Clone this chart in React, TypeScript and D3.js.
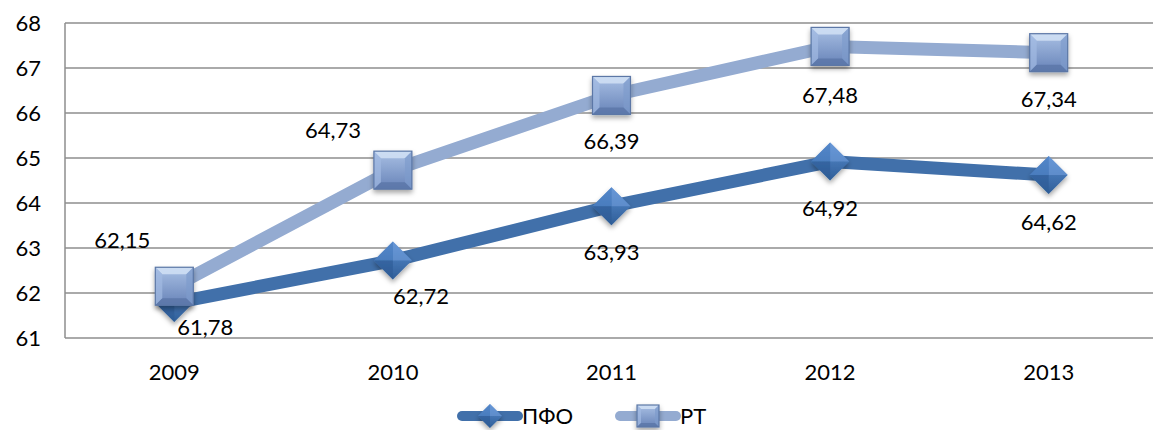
import { useRef, useEffect } from "react";
import { select, scaleBand, scaleLinear, line, range } from "d3";

const years = ["2009", "2010", "2011", "2012", "2013"];
const pfo = [61.78, 62.72, 63.93, 64.92, 64.62];
const rt = [62.15, 64.73, 66.39, 67.48, 67.34];
const yTicks = [61, 62, 63, 64, 65, 66, 67, 68];
// label offsets relative to the marker (dx, dy)
const pfoLabelOff: [number, number][] = [[31, 24], [28, 36], [0, 46], [0, 47], [0, 47]];
const rtLabelOff: [number, number][] = [[-52, -46], [-60, -40], [0, 46], [0, 49], [0, 47]];

const fmt = (v: number) => v.toFixed(2).replace(".", ",");

function App() {
  const svgRef = useRef<SVGSVGElement | null>(null);
  const width = 1153;
  const height = 430;

  useEffect(() => {
    if (!svgRef.current) return;
    const svg = select(svgRef.current);
    svg.selectAll("*").remove();

    const margin = { left: 65, right: -5, top: 23, bottom: 92 };
    const font = "Lato, 'Open Sans', sans-serif";
    const fs = 22;

    const x = scaleBand<string>()
      .domain(years)
      .range([margin.left, width - margin.right]);
    const y = scaleLinear()
      .domain([61, 68])
      .range([height - margin.bottom, margin.top]);
    const cx = (d: string) => x(d)! + x.bandwidth() / 2;

    const defs = svg.append("defs");
    const sq = defs.append("linearGradient").attr("id", "sqGrad").attr("x1", 0).attr("y1", 0).attr("x2", 0).attr("y2", 1);
    sq.append("stop").attr("offset", "0%").attr("stop-color", "#a9c0e4");
    sq.append("stop").attr("offset", "100%").attr("stop-color", "#6783b8");
    const dm = defs.append("linearGradient").attr("id", "dmGrad").attr("x1", 0).attr("y1", 0).attr("x2", 0).attr("y2", 1);
    dm.append("stop").attr("offset", "0%").attr("stop-color", "#5a8dd0");
    dm.append("stop").attr("offset", "100%").attr("stop-color", "#2f5e98");
    const sh = defs.append("filter").attr("id", "shadow").attr("x", "-30%").attr("y", "-30%").attr("width", "160%").attr("height", "160%");
    sh.append("feDropShadow").attr("dx", 0).attr("dy", 3).attr("stdDeviation", 2.5).attr("flood-opacity", 0.35);

    // grid
    svg.append("g")
      .selectAll("line")
      .data(yTicks)
      .join("line")
      .attr("x1", margin.left)
      .attr("x2", width)
      .attr("y1", (d) => y(d))
      .attr("y2", (d) => y(d))
      .attr("stroke", "#8e8e8e")
      .attr("stroke-width", 1.5);
    svg.append("line")
      .attr("x1", margin.left).attr("x2", margin.left)
      .attr("y1", y(68)).attr("y2", y(61))
      .attr("stroke", "#8e8e8e").attr("stroke-width", 1.5);

    svg.append("g")
      .selectAll("text")
      .data(yTicks)
      .join("text")
      .attr("x", 41)
      .attr("y", (d) => y(d))
      .attr("dy", "0.35em")
      .attr("text-anchor", "end")
      .attr("font-family", font)
      .attr("font-size", fs)
      .text((d) => d);

    svg.append("g")
      .selectAll("text")
      .data(years)
      .join("text")
      .attr("x", (d) => cx(d))
      .attr("y", 372)
      .attr("dy", "0.35em")
      .attr("text-anchor", "middle")
      .attr("font-family", font)
      .attr("font-size", fs)
      .text((d) => d);

    const drawDiamond = (g: any, px: number, py: number, r: number) => {
      const m = g.append("g").attr("transform", `translate(${px},${py})`).attr("filter", "url(#shadow)");
      m.append("path").attr("d", `M0,${-r}L${r},0L0,${r}L${-r},0Z`).attr("fill", "url(#dmGrad)");
      m.append("path").attr("d", `M0,${-r}L${r},0L0,0Z`).attr("fill", "#6f9ddb").attr("opacity", 0.6);
      m.append("path").attr("d", `M0,${-r}L${-r},0L0,0Z`).attr("fill", "#4f82c4").attr("opacity", 0.6);
      m.append("path").attr("d", `M0,${r}L${-r},0L0,0Z`).attr("fill", "#2c5a94").attr("opacity", 0.6);
    };
    const drawSquare = (g: any, px: number, py: number, s: number) => {
      const h = s / 2;
      const b = Math.round(s / 5.5);
      const m = g.append("g").attr("transform", `translate(${px},${py})`).attr("filter", "url(#shadow)");
      m.append("rect").attr("x", -h).attr("y", -h).attr("width", s).attr("height", s).attr("fill", "url(#sqGrad)");
      m.append("path").attr("d", `M${-h},${-h}L${h},${-h}L${h - b},${-h + b}L${-h + b},${-h + b}Z`).attr("fill", "#d5e3f6").attr("opacity", 0.8);
      m.append("path").attr("d", `M${-h},${-h}L${-h + b},${-h + b}L${-h + b},${h - b}L${-h},${h}Z`).attr("fill", "#a3bbe2").attr("opacity", 0.7);
      m.append("path").attr("d", `M${h},${-h}L${h - b},${-h + b}L${h - b},${h - b}L${h},${h}Z`).attr("fill", "#7e9bcc").attr("opacity", 0.7);
      m.append("path").attr("d", `M${-h},${h}L${-h + b},${h - b}L${h - b},${h - b}L${h},${h}Z`).attr("fill", "#5a76a8").attr("opacity", 0.8);
      m.append("rect").attr("x", -h).attr("y", -h).attr("width", s).attr("height", s).attr("fill", "none").attr("stroke", "#5b77a6").attr("stroke-width", 1.2);
    };

    const lineGen = line<number>()
      .x((_, i) => cx(years[i]))
      .y((d) => y(d));

    const series = [
      { values: pfo, color: "#4170aa", marker: "diamond", off: pfoLabelOff },
      { values: rt, color: "#94abd1", marker: "square", off: rtLabelOff },
    ];

    series.forEach((s) => {
      const g = svg.append("g");
      g.append("path")
        .attr("d", lineGen(s.values))
        .attr("fill", "none")
        .attr("stroke", s.color)
        .attr("stroke-width", 13);
      s.values.forEach((v, i) => {
        if (s.marker === "diamond") drawDiamond(g, cx(years[i]), y(v), 19);
        else drawSquare(g, cx(years[i]), y(v), 38);
      });
    });

    series.forEach((s) => {
      svg.append("g")
        .selectAll("text")
        .data(range(s.values.length))
        .join("text")
        .attr("x", (i) => cx(years[i]) + s.off[i][0])
        .attr("y", (i) => y(s.values[i]) + s.off[i][1])
        .attr("dy", "0.35em")
        .attr("text-anchor", "middle")
        .attr("font-family", font)
        .attr("font-size", fs)
        .text((i) => fmt(s.values[i]));
    });

    // legend
    const legend = svg.append("g").attr("transform", "translate(0,416)");
    const items = [
      { name: "ПФО", color: "#4170aa", marker: "diamond", x0: 462 },
      { name: "РТ", color: "#94abd1", marker: "square", x0: 620 },
    ];
    items.forEach((it) => {
      legend.append("line")
        .attr("x1", it.x0).attr("x2", it.x0 + 56)
        .attr("y1", 0).attr("y2", 0)
        .attr("stroke", it.color).attr("stroke-width", 10)
        .attr("stroke-linecap", "round");
      if (it.marker === "diamond") drawDiamond(legend, it.x0 + 28, 0, 12);
      else drawSquare(legend, it.x0 + 28, 0, 22);
      legend.append("text")
        .attr("x", it.x0 + 60)
        .attr("y", 0)
        .attr("dy", "0.35em")
        .attr("font-family", font)
        .attr("font-size", fs)
        .text(it.name);
    });
  }, []);

  return (
    <div style={{ position: "absolute", left: 0, top: 0, width, height, overflow: "hidden" }}>
      <svg ref={svgRef} width={width} height={height} viewBox={`0 0 ${width} ${height}`} style={{ display: "block" }}></svg>
    </div>
  );
}

export default App;
